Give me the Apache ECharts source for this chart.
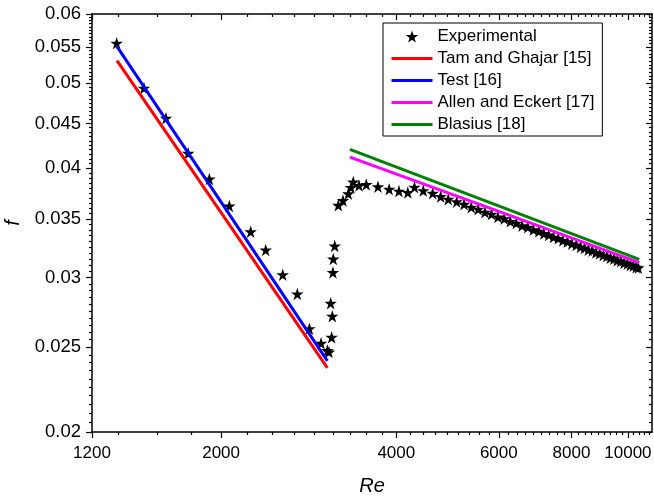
<!DOCTYPE html>
<html>
<head>
<meta charset="utf-8">
<script src="https://cdn.jsdelivr.net/npm/echarts@6/dist/echarts.min.js"></script>
<style>
  html, body { margin: 0; padding: 0; background: #fff; }
  #chart { width: 654px; height: 497px; }
</style>
</head>
<body>
<div id="chart"></div>
<script>
// experimental points (Re, f)
var reExp = [1323, 1474, 1608, 1756, 1909, 2066, 2248, 2386, 2552, 2704, 2836, 2970, 3045, 3065,
  3085, 3097, 3105, 3113, 3117, 3135, 3180, 3239, 3308, 3343, 3374, 3451, 3552, 3720, 3889, 4042,
  4186, 4298, 4450, 4619, 4767, 4913, 5079,
  5230, 5380, 5530, 5680, 5830, 5980, 6130, 6280, 6430, 6580, 6730, 6880, 7030, 7170, 7310, 7450,
  7590, 7730, 7870, 8010, 8150, 8290, 8420, 8550, 8680, 8810, 8940, 9070, 9200, 9330, 9460, 9590,
  9720, 9850, 9980, 10100, 10220, 10330, 10420];
var fExp = [0.05556, 0.04938, 0.04562, 0.04160, 0.03889, 0.03623, 0.03386, 0.03227, 0.03024, 0.02874, 0.02623, 0.02525, 0.02478, 0.02468,
  0.02805, 0.02565, 0.02712, 0.03041, 0.03151, 0.03261, 0.03629, 0.03675, 0.03741, 0.03803, 0.03858, 0.03823, 0.03833, 0.03811, 0.03786, 0.03767,
  0.03754, 0.03805, 0.03772, 0.03746, 0.03713, 0.03687, 0.03664,
  0.03640, 0.03611, 0.03592, 0.03563, 0.03546, 0.03519, 0.03503, 0.03479, 0.03463, 0.03440, 0.03425, 0.03403, 0.03389, 0.03369, 0.03357, 0.03338,
  0.03327, 0.03308, 0.03298, 0.03280, 0.03270, 0.03252, 0.03244, 0.03228, 0.03220, 0.03205, 0.03197, 0.03182, 0.03175, 0.03161, 0.03154, 0.03140,
  0.03133, 0.03119, 0.03113, 0.03100, 0.03096, 0.03084, 0.03080];

// correlations, end points (straight on log-log)
var tamRe = [1325, 3045];
var tamF = [0.05308, 0.02367];
var testRe = [1325, 3045];
var testF = [0.05508, 0.02411];
var allenRe = [3329, 10460];
var allenF = [0.04118, 0.03121];
var blasiusRe = [3329, 10460];
var blasiusF = [0.04204, 0.03148];

var seriesNames = ['Experimental', 'Tam and Ghajar [15]', 'Test [16]', 'Allen and Eckert [17]', 'Blasius [18]'];

var xTicks = [1200, 2000, 4000, 6000, 8000, 10000];
var xTickLabels = ['1200', '2000', '4000', '6000', '8000', '10000'];
var yTicks = [0.02, 0.025, 0.03, 0.035, 0.04, 0.045, 0.05, 0.055, 0.06];
var yTickLabels = ['0.02', '0.025', '0.03', '0.035', '0.04', '0.045', '0.05', '0.055', '0.06'];

var xMin = 1200, xMax = 11000, yMin = 0.02, yMax = 0.06;

var lg = Math.log10;
var FONT = '"Liberation Sans", Arial, sans-serif';
var STAR = 'path://M50 0 L61.23 34.55 L97.55 34.55 L68.16 55.9 L79.39 90.45 L50 69.1 L20.61 90.45 L31.84 55.9 L2.45 34.55 L38.77 34.55 Z';

// minor ticks: 2000/9 steps on x, 0.0005 steps on y
var xMinor = [];
for (var k = 6; k < 50; k++) {
  var v = k * 2000 / 9;
  if (k % 9 !== 0 && v > xMin && v < xMax) xMinor.push(lg(v));
}
var yMinor = [];
for (var i = 41; i < 120; i++) {
  if (i % 10 !== 0) yMinor.push(lg(i * 0.0005));
}

function pairs(xs, ys) {
  return xs.map(function (x, i) { return [x, ys[i]]; });
}

function labelFrom(ticks, labels) {
  return function (v) {
    for (var i = 0; i < ticks.length; i++) {
      if (Math.abs(lg(ticks[i]) - v) < 1e-6) return labels[i];
    }
    return '';
  };
}

// decoration axis in log10 space
function deco(pos, lo, hi, vals, len, inside, withLine, label) {
  return {
    type: 'value', position: pos, min: lg(lo), max: lg(hi),
    axisLine: { show: withLine, onZero: false, lineStyle: { color: '#000', width: 1.5 } },
    axisTick: { show: true, customValues: vals, length: len, inside: inside,
      lineStyle: { color: '#000', width: 1.2 } },
    axisLabel: label || { show: false },
    splitLine: { show: false }
  };
}

var xMajorAxis = deco('bottom', xMin, xMax, xTicks.map(lg), 6, false, true, {
  show: true, customValues: xTicks.map(lg), formatter: labelFrom(xTicks, xTickLabels),
  margin: 13, color: '#000', fontSize: 17, fontFamily: FONT
});
xMajorAxis.name = 'Re';
xMajorAxis.nameLocation = 'middle';
xMajorAxis.nameGap = 44;
xMajorAxis.nameTextStyle = { fontStyle: 'italic', fontSize: 20, color: '#000', fontFamily: FONT };

var yMajorAxis = deco('left', yMin, yMax, yTicks.map(lg), 6, false, true, {
  show: true, customValues: yTicks.map(lg), formatter: labelFrom(yTicks, yTickLabels),
  margin: 11, color: '#000', fontSize: 18.5, fontFamily: FONT
});
yMajorAxis.name = 'f';
yMajorAxis.nameLocation = 'middle';
yMajorAxis.nameGap = 66;
yMajorAxis.nameTextStyle = { fontStyle: 'italic', fontSize: 20, color: '#000', fontFamily: FONT };

var lineStyleOf = function (c) { return { color: c, width: 3 }; };
var legendLine = function (name) { return { name: name, itemStyle: { opacity: 0 } }; };

var option = {
  animation: false,
  backgroundColor: '#fff',
  grid: { left: 92, right: 2, top: 14, bottom: 65, outerBoundsMode: 'none' },
  legend: {
    orient: 'vertical', left: 383, top: 23,
    itemWidth: 41, itemHeight: 12, itemGap: 5,
    padding: [5, 8, 3, 7],
    borderColor: '#000', borderWidth: 1,
    lineStyle: { width: 3 },
    textStyle: { fontSize: 17, color: '#000', fontFamily: FONT },
    data: [
      { name: seriesNames[0], icon: STAR, itemStyle: { color: '#000', opacity: 1 } },
      legendLine(seriesNames[1]), legendLine(seriesNames[2]),
      legendLine(seriesNames[3]), legendLine(seriesNames[4])
    ]
  },
  xAxis: [
    { type: 'log', logBase: 10, min: xMin, max: xMax, show: false },
    xMajorAxis,
    deco('bottom', xMin, xMax, xMinor, 3, false, false),
    deco('top', xMin, xMax, xTicks.map(lg), 6, true, true),
    deco('top', xMin, xMax, xMinor, 3, true, false)
  ],
  yAxis: [
    { type: 'log', logBase: 10, min: yMin, max: yMax, show: false },
    yMajorAxis,
    deco('left', yMin, yMax, yMinor, 3, false, false),
    deco('right', yMin, yMax, yTicks.map(lg), 6, true, true),
    deco('right', yMin, yMax, yMinor, 3, true, false)
  ],
  series: [
    { name: seriesNames[0], type: 'scatter', xAxisIndex: 0, yAxisIndex: 0,
      symbol: STAR, symbolSize: 12.5, itemStyle: { color: '#000', opacity: 1 }, z: 2,
      data: pairs(reExp, fExp) },
    { name: seriesNames[1], type: 'line', xAxisIndex: 0, yAxisIndex: 0, symbol: 'none',
      itemStyle: { color: '#ff0000' }, lineStyle: lineStyleOf('#ff0000'), z: 3, data: pairs(tamRe, tamF) },
    { name: seriesNames[2], type: 'line', xAxisIndex: 0, yAxisIndex: 0, symbol: 'none',
      itemStyle: { color: '#0000ff' }, lineStyle: lineStyleOf('#0000ff'), z: 3, data: pairs(testRe, testF) },
    { name: seriesNames[3], type: 'line', xAxisIndex: 0, yAxisIndex: 0, symbol: 'none',
      itemStyle: { color: '#ff00ff' }, lineStyle: lineStyleOf('#ff00ff'), z: 3, data: pairs(allenRe, allenF) },
    { name: seriesNames[4], type: 'line', xAxisIndex: 0, yAxisIndex: 0, symbol: 'none',
      itemStyle: { color: '#008000' }, lineStyle: lineStyleOf('#008000'), z: 3, data: pairs(blasiusRe, blasiusF) }
  ]
};

var chart = echarts.init(document.getElementById('chart'));
chart.setOption(option);
</script>
</body>
</html>
